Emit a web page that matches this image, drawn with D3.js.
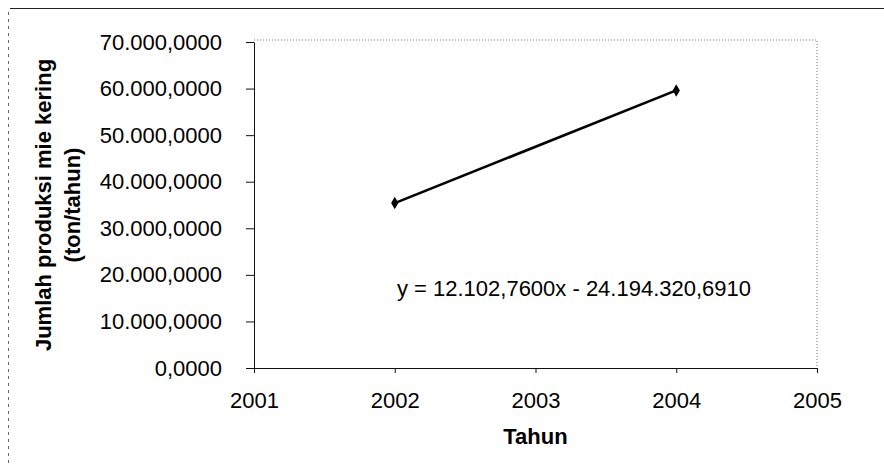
<!DOCTYPE html>
<html lang="en">
<head>
<meta charset="utf-8">
<title>Jumlah produksi mie kering</title>
<script src="https://cdn.jsdelivr.net/npm/d3@7"></script>
<style>
body { margin: 0; background: #fff; }
svg text { font-family: "Liberation Sans", Arial, sans-serif; fill: #000; }
.axis path, .axis line { stroke: #111; }
</style>
</head>
<body>
<script>
// data (ton/tahun)
var years = [2002, 2004];
var produksi = [35404.83, 59610.35];
var yTicks = [0, 10000, 20000, 30000, 40000, 50000, 60000, 70000];
var xTicks = [2001, 2002, 2003, 2004, 2005];
var equation = "y = 12.102,7600x - 24.194.320,6910";

var w = 884, h = 467;
var margin = { top: 42, right: 67, bottom: 99, left: 254 };
var fs = "22px";

var svg = d3.select("body").append("svg")
    .attr("width", w)
    .attr("height", h);

// outer frame (scan edges)
svg.append("line")
    .attr("x1", 10).attr("x2", w).attr("y1", 8.5).attr("y2", 8.5)
    .attr("stroke", "#222").attr("stroke-width", 1.2);
svg.append("line")
    .attr("x1", 8.5).attr("x2", 8.5).attr("y1", 12).attr("y2", h)
    .attr("stroke", "#666").attr("stroke-dasharray", "3,4");

var x = d3.scaleLinear()
    .domain([2001, 2005])
    .range([margin.left, w - margin.right]);

var y = d3.scaleLinear()
    .domain([0, 70000])
    .range([h - margin.bottom, margin.top]);

// plot area border, dotted top and right
svg.append("path")
    .attr("d", "M" + x(2001) + "," + (y(70000) - 2) + "H" + x(2005) + "V" + y(0))
    .attr("fill", "none")
    .attr("stroke", "#777")
    .attr("stroke-dasharray", "1,2");

var fmtY = function(d) {
    var s = d3.format(",.4f")(d);
    // swap separators to Indonesian style
    return s.replace(/,/g, "#").replace(".", ",").replace(/#/g, ".");
};

var yAxis = d3.axisLeft(y)
    .tickValues(yTicks)
    .tickFormat(fmtY)
    .tickSize(8)
    .tickPadding(24)
    .tickSizeOuter(0);

var xAxis = d3.axisBottom(x)
    .tickValues(xTicks)
    .tickFormat(d3.format("d"))
    .tickSize(5)
    .tickPadding(19)
    .tickSizeOuter(0);

svg.append("g")
    .attr("class", "axis")
    .attr("transform", "translate(" + margin.left + ",0)")
    .call(yAxis)
    .selectAll("text")
    .style("font-size", fs);

svg.append("g")
    .attr("class", "axis")
    .attr("transform", "translate(0," + y(0) + ")")
    .call(xAxis)
    .selectAll("text")
    .style("font-size", fs);

// data line
var pts = years.map(function(d, i) { return [d, produksi[i]]; });
var line = d3.line()
    .x(function(d) { return x(d[0]); })
    .y(function(d) { return y(d[1]); });

svg.append("path")
    .datum(pts)
    .attr("d", line)
    .attr("fill", "none")
    .attr("stroke", "#000")
    .attr("stroke-width", 2.6);

svg.selectAll(".marker")
    .data(pts)
    .enter()
    .append("path")
    .attr("class", "marker")
    .attr("d", d3.symbol().type(d3.symbolDiamond).size(45))
    .attr("transform", function(d) { return "translate(" + x(d[0]) + "," + y(d[1]) + ")"; })
    .attr("fill", "#000");

// trendline equation
svg.append("text")
    .attr("x", 574)
    .attr("y", 296)
    .attr("text-anchor", "middle")
    .style("font-size", fs)
    .text(equation);

// axis titles
svg.append("text")
    .attr("x", (x(2001) + x(2005)) / 2)
    .attr("y", 444)
    .attr("text-anchor", "middle")
    .style("font-size", fs)
    .style("font-weight", "bold")
    .text("Tahun");

var ylab = svg.append("text")
    .attr("transform", "translate(51,205) rotate(-90)")
    .attr("text-anchor", "middle")
    .style("font-size", fs)
    .style("font-weight", "bold");
ylab.append("tspan").attr("x", 0).attr("dy", 0).text("Jumlah produksi mie kering");
ylab.append("tspan").attr("x", 0).attr("dy", 29).text("(ton/tahun)");
</script>
</body>
</html>
